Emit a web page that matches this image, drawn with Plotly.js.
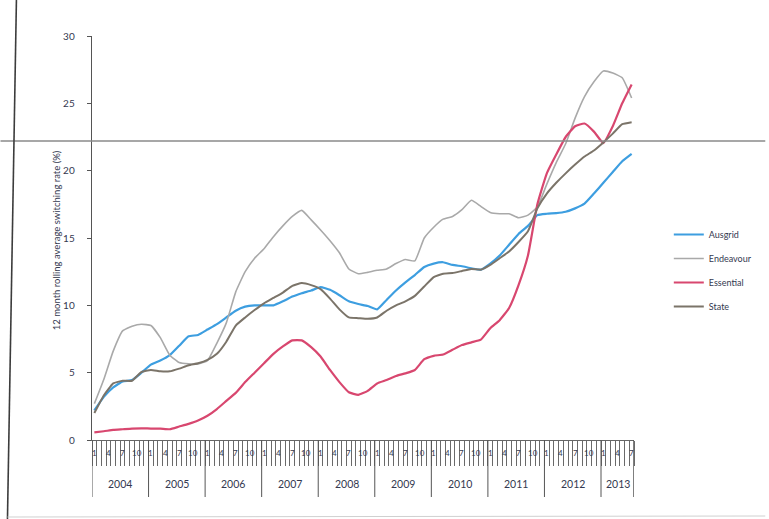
<!DOCTYPE html>
<html>
<head>
<meta charset="utf-8">
<script src="https://cdn.plot.ly/plotly-3.0.1.min.js"></script>
<style>
  html, body { margin: 0; padding: 0; background: #ffffff; }
  #chart { width: 769px; height: 519px; }
</style>
</head>
<body>
<div id="chart"></div>
<script>
// ---- data ----
const months = [
  "2004-01","2004-03","2004-05","2004-07","2004-09","2004-11",
  "2005-01","2005-03","2005-05","2005-07","2005-09","2005-11",
  "2006-01","2006-03","2006-05","2006-07","2006-09","2006-11",
  "2007-01","2007-03","2007-05","2007-07","2007-09","2007-11",
  "2008-01","2008-03","2008-05","2008-07","2008-09","2008-11",
  "2009-01","2009-03","2009-05","2009-07","2009-09","2009-11",
  "2010-01","2010-03","2010-05","2010-07","2010-09","2010-11",
  "2011-01","2011-03","2011-05","2011-07","2011-09","2011-11",
  "2012-01","2012-03","2012-05","2012-07","2012-09","2012-11",
  "2013-01","2013-03","2013-05","2013-07"
];

const ausgrid = [
  2.2, 3.2, 3.9, 4.35, 4.45, 5.0,
  5.6, 5.9, 6.3, 7.0, 7.7, 7.8,
  8.2, 8.6, 9.1, 9.6, 9.9, 10.0,
  10.0, 10.0, 10.3, 10.65, 10.9, 11.1,
  11.35, 11.15, 10.75, 10.3, 10.1, 9.95,
  9.7, 10.4, 11.1, 11.7, 12.25, 12.85,
  13.1, 13.2, 13.0, 12.9, 12.75, 12.65,
  13.1, 13.7, 14.5, 15.3, 15.9, 16.7,
  16.8, 16.85, 16.95, 17.2, 17.55, 18.3,
  19.1, 19.9, 20.7, 21.25
];

const endeavour = [
  2.7, 4.5, 6.6, 8.1, 8.45, 8.6,
  8.5, 7.6, 6.3, 5.75, 5.65, 5.65,
  5.9, 7.2, 8.7, 11.0, 12.5, 13.5,
  14.2, 15.1, 15.9, 16.6, 17.05, 16.35,
  15.6, 14.8, 13.9, 12.7, 12.35, 12.45,
  12.6, 12.7, 13.1, 13.4, 13.3, 15.0,
  15.8, 16.4, 16.6, 17.1, 17.8, 17.35,
  16.9, 16.8, 16.8, 16.5, 16.7, 17.3,
  19.0, 20.6, 22.0, 23.9, 25.5, 26.6,
  27.4, 27.25, 26.9, 25.4
];

const essential = [
  0.57, 0.65, 0.75, 0.8, 0.85, 0.87,
  0.85, 0.85, 0.8, 1.0, 1.2, 1.45,
  1.8, 2.3, 2.9, 3.5, 4.3, 5.0,
  5.7, 6.4, 6.95, 7.4, 7.4, 6.9,
  6.2, 5.2, 4.3, 3.55, 3.35, 3.65,
  4.2, 4.45, 4.75, 4.95, 5.2, 6.0,
  6.25, 6.35, 6.7, 7.05, 7.25, 7.45,
  8.3, 8.9, 9.8, 11.5, 13.7, 17.5,
  19.8, 21.2, 22.5, 23.3, 23.5, 22.9,
  22.05, 23.3, 25.0, 26.4
];

const state = [
  2.0, 3.3, 4.2, 4.4, 4.4, 5.05,
  5.2, 5.1, 5.1, 5.3, 5.55, 5.7,
  5.95, 6.4, 7.3, 8.5, 9.1, 9.65,
  10.15, 10.55, 10.95, 11.45, 11.65, 11.5,
  11.2, 10.5, 9.7, 9.1, 9.05, 9.0,
  9.1, 9.6, 10.0, 10.3, 10.7, 11.4,
  12.1, 12.35, 12.4, 12.55, 12.7, 12.65,
  13.0, 13.5, 14.0, 14.7, 15.5, 17.2,
  18.3, 19.1, 19.8, 20.45, 21.05, 21.5,
  22.1, 22.75, 23.45, 23.6
];

const seriesNames = ["Ausgrid", "Endeavour", "Essential", "State"];
const yearLabels = ["2004","2005","2006","2007","2008","2009","2010","2011","2012","2013"];
const monthTickLabels = ["1","4","7","10"];
const firstYear = 2004;
const lastMonthCount = 115; // Jan 2004 .. Jul 2013
const yTicks = [0, 5, 10, 15, 20, 25, 30];

// ---- helpers ----
function monthIndex(s) {
  const y = parseInt(s.slice(0, 4), 10);
  const m = parseInt(s.slice(5, 7), 10);
  return (y - firstYear) * 12 + (m - 1);
}
const xIdx = months.map(monthIndex);

const colors = {
  Ausgrid: "#3d9ee0",
  Endeavour: "#a9a9a9",
  Essential: "#d8476f",
  State: "#7b7469"
};
const widths = { Ausgrid: 2.2, Endeavour: 1.6, Essential: 2.2, State: 2.0 };
const values = { Ausgrid: ausgrid, Endeavour: endeavour, Essential: essential, State: state };

const traces = seriesNames.map(function (n) {
  return {
    x: xIdx,
    y: values[n],
    type: "scatter",
    mode: "lines",
    name: n,
    legendgroup: n,
    line: { color: colors[n], width: widths[n], shape: "spline", smoothing: 0.4 },
    hoverinfo: "skip"
  };
});

// plot geometry (pixels) for paper-coordinate helpers
const W = 769, H = 519;
const L = 92, R = 637, T = 36, B = 440;
function px(x) { return (x - L) / (R - L); }
function py(y) { return (B - y) / (B - T); }

// x-axis month tick boundaries
const tickBounds = [];
for (let i = 0; i <= lastMonthCount; i++) tickBounds.push(i - 0.5);

const annotations = [];
const shapes = [];
const textColor = "#343950";
const fontFam = "Lato, 'Open Sans', sans-serif";

// month labels 1,4,7,10
for (let i = 0; i < lastMonthCount; i++) {
  const mon = (i % 12) + 1;
  if (monthTickLabels.indexOf(String(mon)) >= 0) {
    annotations.push({
      x: i, xref: "x", y: py(453), yref: "paper",
      text: String(mon), showarrow: false,
      font: { family: fontFam, size: 8, color: textColor },
      xanchor: "center", yanchor: "middle"
    });
  }
}
// year labels + dividers
yearLabels.forEach(function (yl, k) {
  const start = k * 12 - 0.5;
  const end = Math.min((k + 1) * 12, lastMonthCount) - 0.5;
  annotations.push({
    x: (start + end) / 2, xref: "x", y: py(484), yref: "paper",
    text: yl, showarrow: false,
    font: { family: fontFam, size: 10.5, color: textColor },
    xanchor: "center", yanchor: "middle"
  });
  shapes.push({
    type: "line", xref: "x", yref: "paper",
    x0: start, x1: start, y0: py(440), y1: py(497),
    line: { color: "#555", width: 1 }
  });
});
shapes.push({
  type: "line", xref: "x", yref: "paper",
  x0: lastMonthCount - 0.5, x1: lastMonthCount - 0.5, y0: py(440), y1: py(497),
  line: { color: "#555", width: 1.5 }
});

// y-axis title
annotations.push({
  x: px(56), xref: "paper", y: py(240), yref: "paper",
  text: "12 month rolling average switching rate (%)",
  textangle: -90, showarrow: false,
  font: { family: fontFam, size: 9.5, color: textColor },
  xanchor: "center", yanchor: "middle"
});

// scan artefacts: horizontal rule, tilted left edge, bottom edge
shapes.push({
  type: "line", xref: "paper", yref: "paper",
  x0: px(0), x1: px(W), y0: py(141), y1: py(141),
  line: { color: "#8a8a8a", width: 1.5 }
});
shapes.push({
  type: "line", xref: "paper", yref: "paper",
  x0: px(16), x1: px(7), y0: py(0), y1: py(H),
  line: { color: "#3c3c3c", width: 1.6 }
});
shapes.push({
  type: "line", xref: "paper", yref: "paper",
  x0: px(7), x1: px(W), y0: py(517), y1: py(516),
  line: { color: "#d0d0d0", width: 1 }
});

const layout = {
  width: W, height: H,
  margin: { l: L, r: W - R, t: T, b: H - B, pad: 0 },
  paper_bgcolor: "#ffffff",
  plot_bgcolor: "#ffffff",
  font: { family: fontFam, color: textColor },
  showlegend: true,
  legend: {
    x: px(672), y: py(220), xanchor: "left", yanchor: "top",
    font: { family: fontFam, size: 9, color: textColor },
    tracegroupgap: 5, itemwidth: 30,
    bgcolor: "rgba(0,0,0,0)"
  },
  xaxis: {
    range: [-0.5, lastMonthCount - 0.5],
    tickmode: "array", tickvals: tickBounds, ticktext: tickBounds.map(function () { return ""; }),
    ticks: "outside", ticklen: 25, tickwidth: 1, tickcolor: "#6a6a6a",
    showticklabels: false,
    showline: true, linecolor: "#666", linewidth: 1,
    showgrid: false, zeroline: false, fixedrange: true
  },
  yaxis: {
    range: [0, 30],
    tickmode: "array", tickvals: yTicks,
    ticks: "outside", ticklen: 4, tickcolor: "#555",
    ticklabelstandoff: 10,
    tickfont: { family: fontFam, size: 10, color: textColor },
    showline: true, linecolor: "#555", linewidth: 1.3,
    showgrid: false, zeroline: false, fixedrange: true
  },
  annotations: annotations,
  shapes: shapes
};

Plotly.newPlot("chart", traces, layout, { staticPlot: true, displayModeBar: false });
</script>
</body>
</html>
